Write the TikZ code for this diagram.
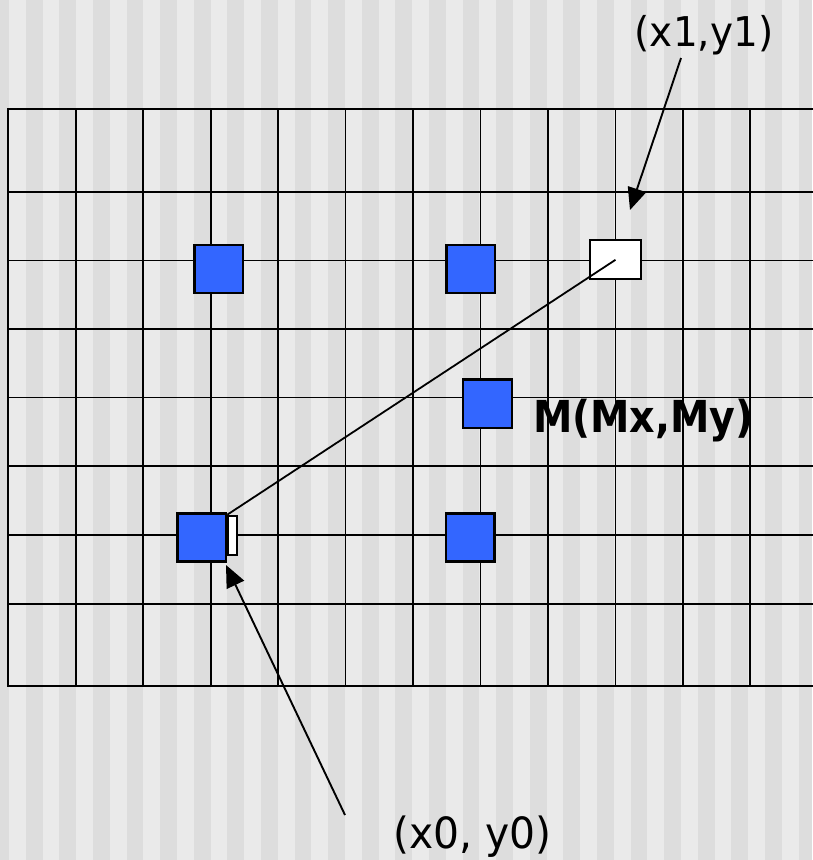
\documentclass[tikz,border=0pt]{standalone}
\usepackage{fontspec}
\usetikzlibrary{arrows.meta}
\newfontfamily\labfont[FakeStretch=0.95]{DejaVu Sans}
\newfontfamily\mfont[FakeStretch=0.9]{DejaVu Sans Bold}
\definecolor{stripeD}{HTML}{DDDDDD}
\definecolor{stripeL}{HTML}{EAEAEA}
\definecolor{sqblue}{HTML}{3366FF}
\begin{document}
\begin{tikzpicture}[x=1pt,y=-1pt,
  gridline/.style={line width=1.7pt, line cap=rect},
  bluesq/.style={draw=black, line width=2.4pt, fill=sqblue, minimum width=48.6pt, minimum height=48.1pt, inner sep=0pt},
  whitebox/.style={draw=black, line width=2pt, fill=white, inner sep=0pt},
  pointer/.style={line width=1.9pt, -{Triangle[length=22pt,width=19pt]}},
  lab/.style={inner sep=0pt, anchor=base}]
\useasboundingbox (0,0) rectangle (812,860);
\fill[stripeD] (0,0) rectangle (812,860);
\foreach \k in {0,...,23} \fill[stripeL] ({9+33.6*\k},0) rectangle ({25.8+33.6*\k},860);
% grid
\foreach \i in {0,...,11} \draw[gridline] ({8.3+67.45*\i},109) -- ({8.3+67.45*\i},686);
\foreach \y in {109,192,260.5,329.3,397.5,466.3,535,604.3,686} \draw[gridline] (8.3,\y) -- (812,\y);
% pixels
\node[whitebox, minimum width=51.6pt, minimum height=39pt] (p1) at (615.5,259.8) {};
\node[whitebox, minimum width=8.7pt, minimum height=39.3pt] (p0) at (232.7,535.3) {};
\node[bluesq] (qa) at (218.8,269) {};
\node[bluesq] (qb) at (470.8,269) {};
\node[bluesq] (qm) at (487.5,403.7) {};
\node[bluesq] (qd) at (201.8,537.5) {};
\node[bluesq] (qe) at (470.2,537.5) {};
\draw[line width=1.8pt] (p1.center) -- (p0.north west);
% labels
\node[lab] (t1) at (704,46.7) {\labfont\fontsize{41}{41}\selectfont (x1,y1)};
\node[lab] (t0) at (472.5,848) {\labfont\fontsize{43}{43}\selectfont (x0, y0)};
\node[lab] (tm) at (643.5,432.7) {\mfont\fontsize{44}{44}\selectfont M(Mx,My)};
% pointers
\coordinate (a1s) at (681,58);
\coordinate (a1e) at (630,210);
\draw[pointer] (a1s) -- (a1e);
\coordinate (a0s) at (345,815);
\coordinate (a0e) at (226,565);
\draw[pointer] (a0s) -- (a0e);
\end{tikzpicture}
\end{document}
